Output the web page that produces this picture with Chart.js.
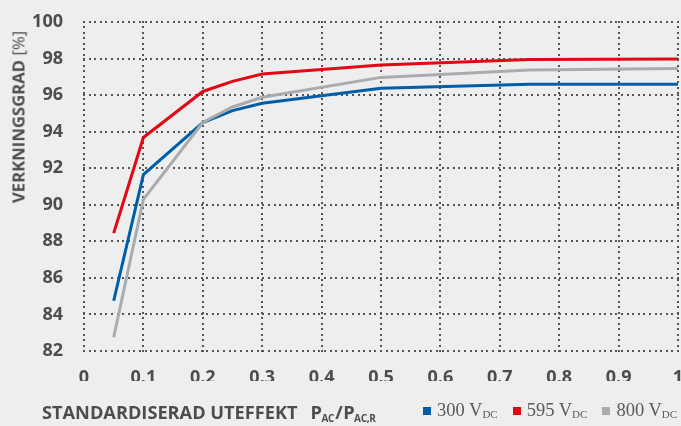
<!DOCTYPE html>
<html>
<head>
<meta charset="utf-8">
<script src="https://cdn.jsdelivr.net/npm/chart.js@4/dist/chart.umd.min.js"></script>
<style>
  html, body { margin: 0; padding: 0; background: #eeeeee; }
  #wrap { position: relative; width: 681px; height: 426px; background: #eeeeee; overflow: hidden; }
  #chart { position: absolute; left: 0; top: 0; }
  #ytitle {
    position: absolute; left: 18px; top: 117px;
    transform: translate(-50%, -50%) rotate(-90deg);
    font: bold 16.7px "Open Sans", sans-serif; color: #4d4d4d; white-space: nowrap;
  }
  #ytitle span { font-weight: normal; }
  #xtitle {
    position: absolute; left: 42px; top: 400px;
    font: bold 18.2px "Open Sans", sans-serif; color: #4d4d4d; white-space: nowrap;
  }
  #xtitle .frac { margin-left: 13px; letter-spacing: -0.5px; }
  #xtitle sub { font-size: 10px; vertical-align: -3px; letter-spacing: -0.3px; }
  #xtitle .sl { margin: 0 1px; }
  #legend {
    position: absolute; left: 423px; top: 400px;
    font: 18.5px "Liberation Serif", serif; color: #5a5a5a; white-space: nowrap;
  }
  #legend span.item { margin-right: 15px; }
  #legend i { display: inline-block; width: 8px; height: 8px; margin-right: 6px; vertical-align: 1px; }
  #legend sub { font-size: 11px; vertical-align: -2px; }
</style>
</head>
<body>
<div id="wrap">
  <canvas id="chart" width="681" height="426"></canvas>
  <div id="ytitle">VERKNINGSGRAD <span>[%]</span></div>
  <div id="xtitle">STANDARDISERAD UTEFFEKT<span class="frac">P<sub>AC</sub><span class="sl">/</span>P<sub>AC,R</sub></span></div>
  <div id="legend"></div>
</div>
<script>
// load ratio P_AC / P_AC,R
var loadPoints = [0.05, 0.1, 0.2, 0.25, 0.3, 0.5, 0.75, 1.0];

// efficiency [%] per DC voltage
var eff300 = [84.75, 91.65, 94.5, 95.15, 95.55, 96.38, 96.6, 96.6];
var eff595 = [88.45, 93.68, 96.2, 96.75, 97.15, 97.65, 97.95, 97.98];
var eff800 = [82.75, 90.3, 94.5, 95.35, 95.88, 96.97, 97.37, 97.45];

var seriesNames = ['300', '595', '800'];
var seriesColors = ['#005ea8', '#e30614', '#a8acb1'];

var xTicks = [0, 0.1, 0.2, 0.3, 0.4, 0.5, 0.6, 0.7, 0.8, 0.9, 1];
var yTicks = [82, 84, 86, 88, 90, 92, 94, 96, 98, 100];

function toPoints(values) {
        return loadPoints.map(function (x, i) { return { x: x, y: values[i] }; });
}

var allSeries = [eff300, eff595, eff800];
var datasets = allSeries.map(function (values, i) {
        return {
                label: seriesNames[i] + ' V_DC',
                data: toPoints(values),
                borderColor: seriesColors[i],
                borderWidth: 3,
                pointRadius: 0,
                fill: false,
                tension: 0
        };
});
// gray drawn first so the others sit on top like the reference
datasets = [datasets[2], datasets[0], datasets[1]];

// html legend with subscripts
var legendHtml = '';
seriesNames.forEach(function (name, i) {
        legendHtml += '<span class="item"><i style="background:' + seriesColors[i] + '"></i>' +
                name + ' V<sub>DC</sub></span>';
});
document.getElementById('legend').innerHTML = legendHtml;

// grid drawn by hand from the tick arrays, as rows of small dots
function dotRow(c, x0, y0, x1, y1, step, dot) {
        var len = Math.hypot(x1 - x0, y1 - y0);
        var n = Math.floor(len / step);
        for (var k = 0; k <= n; k++) {
                var t = n ? k / n : 0;
                var px = x0 + (x1 - x0) * t, py = y0 + (y1 - y0) * t;
                c.fillRect(Math.round(px - dot / 2), Math.round(py - dot / 2), dot, dot);
        }
}

var dottedGrid = {
        id: 'dottedGrid',
        beforeDatasetsDraw: function (chart) {
                var c = chart.ctx, a = chart.chartArea;
                var xs = chart.scales.x, ys = chart.scales.y;
                c.save();
                c.globalAlpha = 1;
                c.fillStyle = '#555555';
                xTicks.forEach(function (v) {
                        var px = xs.getPixelForValue(v);
                        dotRow(c, px, a.bottom, px, a.top, 5.4, 2);
                });
                yTicks.forEach(function (v, i) {
                        var py = ys.getPixelForValue(v);
                        dotRow(c, a.left, py, a.right, py, 5.6, 2);
                });
                c.restore();
        }
};

var tickFont = { family: 'Open Sans', size: 18, weight: 'bold' };

var ctx = document.getElementById('chart').getContext('2d');
var effChart = new Chart(ctx, {
        type: 'line',
        data: { datasets: datasets },
        options: {
                responsive: false,
                animation: false,
                layout: { padding: { left: 0, top: 22, right: 3, bottom: 45 } },
                plugins: { legend: { display: false }, tooltip: { enabled: false } },
                scales: {
                        x: {
                                type: 'linear',
                                min: 0, max: 1,
                                afterBuildTicks: function (scale) {
                                        scale.ticks = xTicks.map(function (v) { return { value: v }; });
                                },
                                afterFit: function (scale) {
                                        scale.height = 30;
                                        scale.paddingLeft = 0;
                                        scale.paddingRight = 0;
                                },
                                ticks: {
                                        font: tickFont, color: '#4d4d4d', padding: 8,
                                        maxRotation: 0, autoSkip: false,
                                        callback: function (v) { return String(Math.round(v * 10) / 10); }
                                },
                                grid: { display: false },
                                border: { display: false }
                        },
                        y: {
                                min: 82, max: 100,
                                afterBuildTicks: function (scale) {
                                        scale.ticks = yTicks.map(function (v) { return { value: v }; });
                                },
                                afterFit: function (scale) {
                                        scale.width = 84;
                                        scale.paddingTop = 0;
                                        scale.paddingBottom = 0;
                                },
                                ticks: { font: tickFont, color: '#4d4d4d', padding: 13, autoSkip: false },
                                grid: { display: false },
                                border: { display: false }
                        }
                }
        },
        plugins: [dottedGrid]
});
</script>
</body>
</html>
